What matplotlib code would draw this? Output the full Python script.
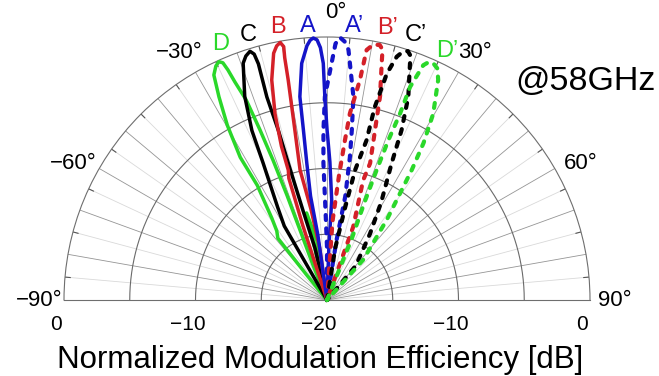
import numpy as np
import matplotlib
matplotlib.use("Agg")
import matplotlib.pyplot as plt
from matplotlib.transforms import offset_copy

plt.rcParams['font.family'] = ['Liberation Sans', 'DejaVu Sans']

# ---------------- data (angle in degrees, level in dB) ----------------
theta_D = [-39.5, -39.0, -38.5, -36.0, -34.0, -31.3, -31.3, -29.7, -28.0, -26.7, -25.4, -24.4,
           -23.7, -23.3, -22.9, -22.0, -21.5, -21.1, -20.9, -21.1, -21.8, -22.0,
           -14.0, -13.2, -9.7, -9.0]
db_D = [-20.0, -17.5, -14.0, -13.5, -12.5, -9.8, -7.3, -4.7, -2.5, -0.85, -0.3, -0.1,
        -0.3, -0.95, -2.0, -3.6, -6.1, -8.6, -11.5, -14.3, -17.1, -20.0,
        -20.0, -13.2, -15.4, -20.0]

theta_C = [-29.3, -30.0, -28.0, -25.0, -23.9, -22.0, -19.5, -18.4, -17.2, -16.5, -16.2, -16.5,
           -16.0, -15.8, -15.0, -13.0, -12.0]
db_C = [-20.0, -13.5, -12.0, -8.5, -5.9, -3.3, -0.9, -0.45, -0.2, -0.5, -1.3, -3.9,
        -6.6, -9.2, -13.0, -16.0, -20.0]

theta_B = [-18.0, -18.0, -17.4, -16.6, -16.5, -15.6, -14.1, -12.2, -11.2, -10.3, -9.7, -9.9,
           -10.0, -10.7, -11.7, -10.0, -8.0, -7.0]
db_B = [-20.0, -14.0, -10.3, -9.7, -7.8, -5.3, -2.75, -0.8, -0.3, -0.1, -0.45, -1.3,
        -3.0, -6.8, -9.9, -13.0, -16.0, -20.0]

theta_A = [-6.0, -8.0, -9.0, -8.4, -7.9, -7.6, -6.1, -4.5, -3.7, -3.0, -2.2, -1.5, -0.9,
           -0.6, 0.0, 1.2, 2.7, 2.0, 1.0]
db_A = [-20.0, -15.0, -12.0, -9.5, -6.95, -4.4, -1.9, -0.6, -0.2, -0.05, -0.2, -0.8, -2.0,
        -4.6, -7.0, -9.5, -12.4, -16.0, -20.0]

theta_Ap = [0.0, 0.0, -1.0, -1.5, -1.2, -0.6, 1.1, 1.9, 2.8, 3.9, 4.9, 7.4, 8.3, 9.1,
            10.0, 9.0, 4.0]
db_Ap = [-20.0, -16.0, -13.0, -9.6, -7.1, -4.55, -2.0, -0.5, 0.0, -0.3, -0.9, -4.4, -6.9,
         -9.0, -12.0, -15.5, -20.0]

theta_Bp = [4.0, 4.0, 5.5, 6.4, 7.0, 8.5, 9.0, 10.3, 11.7, 12.5, 13.0, 14.6, 15.8, 17.5,
            16.8, 19.7, 20.0]
db_Bp = [-20.0, -14.0, -10.5, -7.8, -5.7, -3.1, -0.75, -0.25, -0.2, -0.5, -1.5, -4.0,
         -6.6, -9.1, -10.5, -14.1, -20.0]

theta_Cp = [9.0, 9.0, 11.0, 12.2, 13.9, 13.9, 14.8, 16.0, 17.0, 18.0, 18.8, 19.3, 21.8,
            23.7, 25.3, 29.0, 33.0, 40.0, 42.0]
db_Cp = [-20.0, -16.0, -13.0, -9.9, -7.5, -4.9, -2.2, -0.75, -0.25, -0.1, -0.35, -0.9,
         -3.35, -5.9, -8.5, -11.5, -14.0, -16.6, -20.0]

theta_Dp = [22.0, 22.0, 21.0, 20.9, 21.0, 21.4, 21.3, 22.3, 23.2, 24.2, 25.5, 26.8, 29.7,
            31.6, 33.1, 36.7, 42.0, 44.0]
db_Dp = [-20.0, -15.0, -12.0, -9.4, -7.0, -4.75, -2.6, -0.7, -0.3, -0.27, -0.5, -1.25,
         -3.7, -6.0, -8.2, -12.4, -15.9, -20.0]

curve_names = ['D', 'C', 'B', 'A', 'A’', 'B’', 'C’', 'D’']
curve_theta = [theta_D, theta_C, theta_B, theta_A, theta_Ap, theta_Bp, theta_Cp, theta_Dp]
curve_db = [db_D, db_C, db_B, db_A, db_Ap, db_Bp, db_Cp, db_Dp]
curve_colors = ['#2ad82a', '#000000', '#d42028', '#1414c8',
                '#1414c8', '#d42028', '#000000', '#2ad82a']
curve_dashed = [False, False, False, False, True, True, True, True]

label_theta = [-22.5, -16.6, -10.2, -4.0, 5.8, 12.6, 18.6, 25.7]
label_db = [1.07, 1.0, 1.1, 0.9, 0.95, 1.2, 1.25, 1.0]

angle_ticks = [-90, -60, -30, 0, 30, 60, 90]
angle_tick_labels = ['−90°', '−60°', '−30°', '0°', '30°', '60°', '90°']

radial_tick_theta = [-90, -90, 0, 90, 90]
radial_tick_db = [0, -10, -20, -10, 0]
radial_tick_labels = ['0', '−10', '−20', '−10', '0']

ring_levels = [-15, -10, -5]

# ---------------- figure ----------------
W, H = 659, 376
fig = plt.figure(figsize=(W / 100, H / 100), dpi=100)
cx, cy, R = 327, 300, 263
# square box; the half-disc occupies its middle half vertically
ax = fig.add_axes([(cx - R) / W, (H - cy - R / 2) / H, 2 * R / W, 2 * R / H],
                  projection='polar')
ax.set_theta_zero_location('N')
ax.set_theta_direction(-1)
ax.set_thetamin(-90)
ax.set_thetamax(90)
ax.set_ylim(-20, 0)
ax.grid(False)
ax.set_xticks([])
ax.set_yticks([])
for name, sp in ax.spines.items():
    sp.set_color('#6e6e6e')
    sp.set_linewidth(0.8)

# spokes
for a in range(-85, 90, 10):
    ax.plot(np.deg2rad([a, a]), [-20, 0], color='#d9d9d9', lw=0.6, zorder=1)
for a in range(-80, 90, 10):
    ax.plot(np.deg2rad([a, a]), [-20, 0], color='#959595', lw=0.6, zorder=1)
for a in range(-85, 90, 10):
    ax.plot(np.deg2rad([a, a]), [-0.4, 0], color='#555555', lw=0.8, zorder=1)
# rings
tt = np.deg2rad(np.linspace(-90, 90, 361))
for lv in ring_levels:
    ax.plot(tt, np.full_like(tt, lv), color='#6a6a6a', lw=0.8, zorder=1)

# curves
for th, db, col, dsh in zip(curve_theta, curve_db, curve_colors, curve_dashed):
    if dsh:
        ax.plot(np.deg2rad(th), db, color=col, lw=3.0, dashes=(1.2, 2.0),
                dash_capstyle='round', clip_on=False, zorder=3)
    else:
        ax.plot(np.deg2rad(th), db, color=col, lw=2.5, solid_joinstyle='round',
                clip_on=False, zorder=3)

# curve labels
for name, th, r, col in zip(curve_names, label_theta, label_db, curve_colors):
    ax.text(np.deg2rad(th), r, name, color=col, fontsize=17, ha='center', va='center',
            clip_on=False)

# angle labels
for a, lab in zip(angle_ticks, angle_tick_labels):
    dx = 9 if a == 0 else 0
    tr = offset_copy(ax.transData, fig=fig, x=dx, y=0, units='dots')
    th = a if abs(a) in (0, 90) else a * 1.03
    ax.text(np.deg2rad(th), 1.9, lab, fontsize=16, ha='center', va='center',
            transform=tr, clip_on=False)

# radial tick labels
for th, d, lab in zip(radial_tick_theta, radial_tick_db, radial_tick_labels):
    ax.annotate(lab, (np.deg2rad(th), d), xytext=(-8, -24), textcoords='offset pixels',
                ha='center', va='center', fontsize=15, annotation_clip=False)

fig.text(320 / W, (H - 368) / H, 'Normalized Modulation Efficiency [dB]',
         fontsize=22.5, ha='center', va='baseline')
fig.text(515 / W, (H - 90) / H, '@58GHz', fontsize=24.5, ha='left', va='baseline')

fig.savefig('out.png', dpi=100)
